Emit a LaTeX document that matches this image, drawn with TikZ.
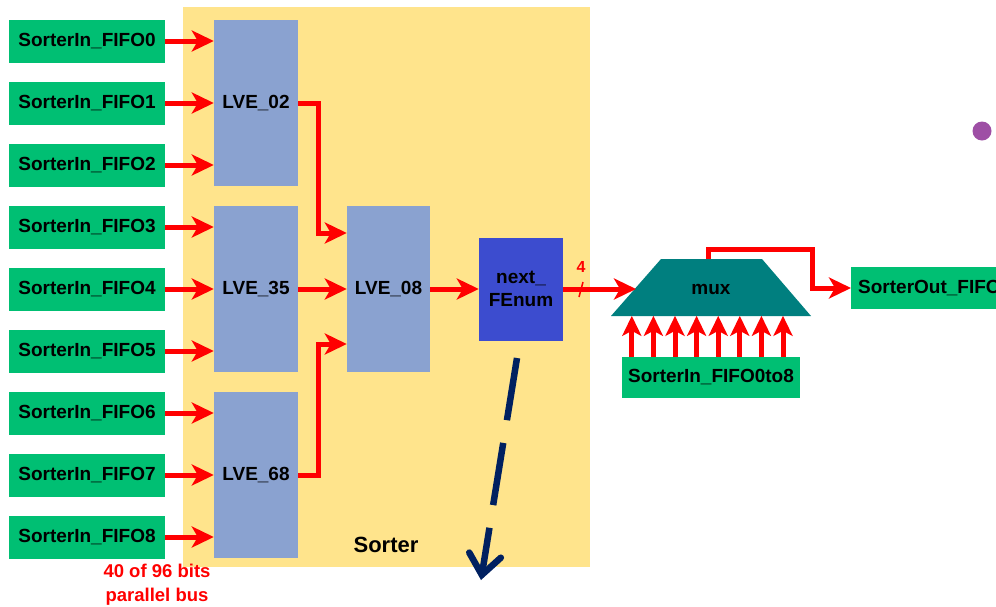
\documentclass[tikz,border=0pt]{standalone}
\usepackage{fontspec}
\setmainfont{Liberation Sans}
\usetikzlibrary{arrows.meta,calc}
\definecolor{boxgreen}{RGB}{0,191,115}
\definecolor{sortyellow}{RGB}{255,228,140}
\definecolor{lvegrey}{RGB}{138,162,208}
\definecolor{fenumblue}{RGB}{60,76,207}
\definecolor{muxteal}{RGB}{0,127,127}
\definecolor{navyline}{RGB}{0,32,96}
\definecolor{dotpurple}{RGB}{158,79,165}
\begin{document}
\begin{tikzpicture}[x=1pt,y=-1pt,
  lbl/.style={font=\fontsize{19}{23}\selectfont\bfseries},
  fifo/.style={lbl,fill=boxgreen,minimum width=156pt,minimum height=43pt,inner sep=0pt},
  lve/.style={lbl,fill=lvegrey,minimum width=84pt,minimum height=166pt,inner sep=0pt},
  redarrow/.style={draw=red,line width=5pt,-{Stealth[length=22pt,width=21pt,inset=6pt]}},
  uparrow/.style={draw=red,line width=5pt,-{Stealth[length=20pt,width=19pt,inset=5pt]}},
  redline/.style={draw=red,line width=5pt}]
\useasboundingbox (0,0) rectangle (996,606);
\clip (0,0) rectangle (996,606);
% Sorter background
\node[fill=sortyellow,minimum width=407pt,minimum height=560pt,inner sep=0pt] (sorterbg) at (386.5,287) {};
\node[font=\fontsize{22}{26}\selectfont\bfseries] (sortlbl) at (386,545) {Sorter};
% input FIFOs
\foreach \i in {0,...,8}{
  \node[fifo] (f\i) at (87,{41+62*\i}) {SorterIn\_FIFO\i};
}
% LVE blocks
\node[lve] (l02) at (256,103) {LVE\_02};
\node[lve] (l35) at (256,289) {LVE\_35};
\node[lve] (l68) at (256,475) {LVE\_68};
\node[lve,minimum width=83pt] (l08) at (388.5,289) {LVE\_08};
\node[lbl,fill=fenumblue,minimum width=84pt,minimum height=103pt,inner sep=0pt,align=center] (fenum) at (521,289) {next\_\\FEnum};
% FIFO -> LVE arrows
\foreach \i/\l in {0/l02,1/l02,2/l02,3/l35,4/l35,5/l35,6/l68,7/l68,8/l68}{
  \draw[redarrow] (f\i.east) -- (f\i.east -| \l.west);
}
% LVE -> LVE_08
\draw[redarrow] (l02.east) -- ++(20,0) |- ([yshift=56pt]l08.west);
\draw[redarrow] (l35.east) -- (l08.west);
\draw[redarrow] (l68.east) -- ++(20,0) |- ([yshift=-55pt]l08.west);
\draw[redarrow] (l08.east) -- (fenum.west);
% mux
\coordinate (mtl) at (661,259);
\coordinate (mtr) at (762,259);
\coordinate (mbr) at (811,316);
\coordinate (mbl) at (611,316);
\fill[muxteal] (mtl) -- (mtr) -- (mbr) -- (mbl) -- cycle;
\node[lbl] (mux) at (711,289) {mux};
\coordinate (muxin) at (636,289);
\coordinate (muxout) at (708,259);
\draw[redarrow] (fenum.east) -- (muxin);
\node[font=\fontsize{16}{18}\selectfont\bfseries,text=red] (bus4) at (581,267) {4};
\draw[red,line width=1.5pt] (579,297) -- (583,282);
% output
\node[lbl,fill=boxgreen,minimum height=42pt,inner xsep=7pt,inner ysep=0pt,anchor=west,text width=160pt,align=left] (sout) at (851,288) {SorterOut\_FIFO};
\draw[redarrow] (muxout) -- ++(0,-10) -| ($(sout.west)+(-39,0)$) -- (sout.west);
% mux inputs
\node[lbl,fill=boxgreen,minimum width=178pt,minimum height=41pt,inner sep=0pt] (in08) at (711,377.5) {SorterIn\_FIFO0to8};
\foreach \k in {0,...,7}{
  \draw[uparrow] ($(in08.north west)+({10+21.6*\k},0)$) -- ++(0,-41);
}
% bus label
\node[font=\fontsize{18.5}{24}\selectfont\bfseries,text=red,align=center] (buslbl) at (157,585) {40 of 96 bits\\parallel bus};
% dashed navy arrow
\coordinate (dstart) at (517,358);
\coordinate (dend) at (481,580);
\draw[navyline,line width=6.5pt,dash pattern=on 63pt off 23pt,-{Straight Barb[length=20pt,width=32pt,line cap=round]}] (dstart) -- (dend);
% purple dot
\fill[dotpurple] (982,131) circle (9.5pt);
\end{tikzpicture}
\end{document}
